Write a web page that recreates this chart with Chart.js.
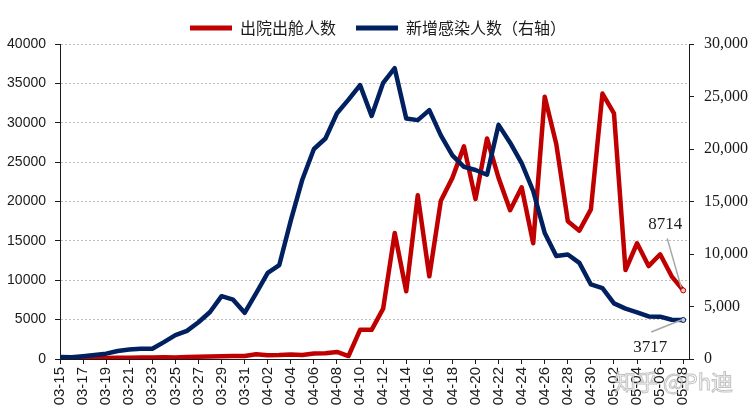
<!DOCTYPE html>
<html lang="zh-CN">
<head>
<meta charset="utf-8">
<title>出院出舱人数与新增感染人数</title>
<script src="https://cdn.jsdelivr.net/npm/chart.js@4.4.1/dist/chart.umd.min.js"></script>
<style>
  html, body { margin: 0; padding: 0; background: #fff; }
  #wrap { width: 756px; height: 411px; }
</style>
</head>
<body>
<div id="wrap"><canvas id="chart" width="756" height="411"></canvas></div>
<script>
// 日期（横轴类目）
const dates = [
  '03-15', '03-16', '03-17', '03-18', '03-19', '03-20', '03-21', '03-22', '03-23', '03-24',
  '03-25', '03-26', '03-27', '03-28', '03-29', '03-30', '03-31',
  '04-01', '04-02', '04-03', '04-04', '04-05', '04-06', '04-07', '04-08', '04-09', '04-10',
  '04-11', '04-12', '04-13', '04-14', '04-15', '04-16', '04-17', '04-18', '04-19', '04-20',
  '04-21', '04-22', '04-23', '04-24', '04-25', '04-26', '04-27', '04-28', '04-29', '04-30',
  '05-01', '05-02', '05-03', '05-04', '05-05', '05-06', '05-07', '05-08'
];

// 出院出舱人数（左轴）
const recovered = [
  60, 80, 100, 120, 140, 150, 170, 200, 180, 220,
  200, 260, 290, 330, 360, 390, 380,
  600, 480, 500, 560, 520, 700, 720, 900, 380, 3700,
  3700, 6400, 16000, 8600, 20800, 10500, 20100, 23000, 27000, 20300,
  28000, 23000, 18900, 21800, 14700, 33300, 27300, 17500, 16300, 19000,
  33700, 31200, 11300, 14700, 11800, 13300, 10500, 8714
];

// 新增感染人数（右轴）
const newInfected = [
  202, 158, 260, 374, 509, 758, 896, 981, 983, 1609,
  2269, 2676, 3500, 4477, 5982, 5653, 4400,
  6280, 8200, 8950, 13200, 17100, 20000, 21000, 23400, 24700, 26080,
  23150, 26300, 27700, 22900, 22750, 23700, 21300, 19400, 18300, 18000,
  17550, 22300, 20600, 18650, 16000, 12000, 9800, 9950, 9150, 7100,
  6750, 5300, 4800, 4450, 4050, 4030, 3740, 3717
];

// 坐标轴刻度
const leftTicks = [0, 5000, 10000, 15000, 20000, 25000, 30000, 35000, 40000];
const rightTicks = [0, 5000, 10000, 15000, 20000, 25000, 30000];

const RED = '#C00000';
const BLUE = '#002060';
const INK = '#1a1a1a';

// 末端数值标注（引线 + 文字）
const endLabelPlugin = {
  id: 'endLabels',
  afterDatasetsDraw(chart) {
    const ctx = chart.ctx;
    const items = [
      { index: 0, text: String(recovered[recovered.length - 1]), line: [-16, -52, -2, -3], tx: -18, ty: -66 },
      { index: 1, text: String(newInfected[newInfected.length - 1]), line: [-32, 12, -2, 0], tx: -33, ty: 28 }
    ];
    ctx.save();
    items.forEach(item => {
      const meta = chart.getDatasetMeta(item.index);
      const pt = meta.data[meta.data.length - 1];
      if (!pt) return;
      ctx.strokeStyle = '#a6a6a6';
      ctx.lineWidth = 1.5;
      ctx.beginPath();
      ctx.moveTo(pt.x + item.line[0], pt.y + item.line[1]);
      ctx.lineTo(pt.x + item.line[2], pt.y + item.line[3]);
      ctx.stroke();
      ctx.fillStyle = INK;
      ctx.font = '17px "Liberation Serif", serif';
      ctx.textAlign = 'center';
      ctx.textBaseline = 'middle';
      ctx.fillText(item.text, pt.x + item.tx, pt.y + item.ty);
    });
    ctx.restore();
  }
};

// 知乎水印
const watermarkPlugin = {
  id: 'watermark',
  afterDraw(chart) {
    const ctx = chart.ctx;
    ctx.save();
    ctx.font = '22px "Noto Sans CJK SC", sans-serif';
    ctx.textAlign = 'left';
    ctx.textBaseline = 'alphabetic';
    ctx.lineWidth = 1;
    ctx.strokeStyle = 'rgba(120, 120, 120, 0.45)';
    ctx.fillStyle = 'rgba(255, 255, 255, 0.8)';
    ctx.fillText('知乎 @Ph迪', 614, 390);
    ctx.strokeText('知乎 @Ph迪', 614, 390);
    ctx.restore();
  }
};

function initChart() {
  const canvas = document.getElementById('chart');
  if (!canvas) return;
  const ctx = canvas.getContext('2d');

  new Chart(ctx, {
    type: 'line',
    data: {
      datasets: [{
        label: '出院出舱人数',
        data: recovered.map((v, i) => ({ x: i, y: v })),
        yAxisID: 'y',
        borderColor: RED,
        backgroundColor: RED,
        borderWidth: 4.5,
        borderJoinStyle: 'round',
        borderCapStyle: 'round',
        tension: 0,
        order: 1,
        pointRadius: c => (c.dataIndex === recovered.length - 1 ? 2.5 : 0),
        pointBackgroundColor: '#f2c4c4',
        pointBorderColor: RED,
        pointBorderWidth: 1
      }, {
        label: '新增感染人数（右轴）',
        data: newInfected.map((v, i) => ({ x: i, y: v })),
        yAxisID: 'y1',
        borderColor: BLUE,
        backgroundColor: BLUE,
        borderWidth: 4.5,
        borderJoinStyle: 'round',
        borderCapStyle: 'round',
        tension: 0,
        order: 0,  // 蓝线画在红线之上
        pointRadius: c => (c.dataIndex === newInfected.length - 1 ? 2.5 : 0),
        pointBackgroundColor: '#c5cde0',
        pointBorderColor: BLUE,
        pointBorderWidth: 1
      }]
    },
    options: {
      responsive: false,
      animation: false,
      devicePixelRatio: 1,
      layout: { padding: 0 },
      plugins: {
        legend: {
          position: 'top',
          maxHeight: 44,
          labels: {
            color: INK,
            font: { family: '"Noto Sans CJK SC", sans-serif', size: 16 },
            boxWidth: 42,
            boxHeight: 5,
            padding: 20,
            sort: (a, b) => a.datasetIndex - b.datasetIndex,
            generateLabels: chart => Chart.defaults.plugins.legend.labels.generateLabels(chart)
              .map(l => Object.assign(l, { lineWidth: 0 }))
          }
        },
        tooltip: { enabled: false }
      },
      scales: {
        x: {
          type: 'linear',
          min: 0,
          max: 54.5,
          afterFit: s => { s.height = 52; },
          grid: { drawOnChartArea: false, tickLength: 5, color: INK, tickColor: INK },
          border: { color: INK, width: 1 },
          ticks: {
            stepSize: 2,
            includeBounds: false,
            autoSkip: false,
            minRotation: 90,
            maxRotation: 90,
            padding: 3,
            color: INK,
            font: { family: '"Liberation Sans", Arial, sans-serif', size: 15 },
            callback: v => dates[v] || ''
          }
        },
        y: {
          position: 'left',
          min: 0,
          max: 40000,
          afterFit: s => { s.width = 60; },
          afterBuildTicks: s => { s.ticks = leftTicks.map(v => ({ value: v })); },
          grid: {
            color: c => (c.tick && c.tick.value === 0 ? 'rgba(0,0,0,0)' : '#bdbdbd'),
            lineWidth: 1,
            tickLength: 5,
            tickColor: INK,
            tickBorderDash: []
          },
          border: { color: INK, width: 1, dash: [2, 2] },
          ticks: {
            padding: 9,
            color: INK,
            font: { family: '"Liberation Sans", Arial, sans-serif', size: 14 },
            callback: v => String(v)
          }
        },
        y1: {
          position: 'right',
          min: 0,
          max: 30000,
          afterFit: s => { s.width = 67; },
          afterBuildTicks: s => { s.ticks = rightTicks.map(v => ({ value: v })); },
          grid: { drawOnChartArea: false, tickLength: 5, color: INK, tickColor: INK },
          border: { color: INK, width: 1 },
          ticks: {
            padding: 10,
            color: INK,
            font: { family: '"Liberation Serif", serif', size: 16 },
            callback: v => v.toLocaleString('en-US')
          }
        }
      }
    },
    plugins: [endLabelPlugin, watermarkPlugin]
  });
}

document.addEventListener('DOMContentLoaded', initChart);
</script>
</body>
</html>
